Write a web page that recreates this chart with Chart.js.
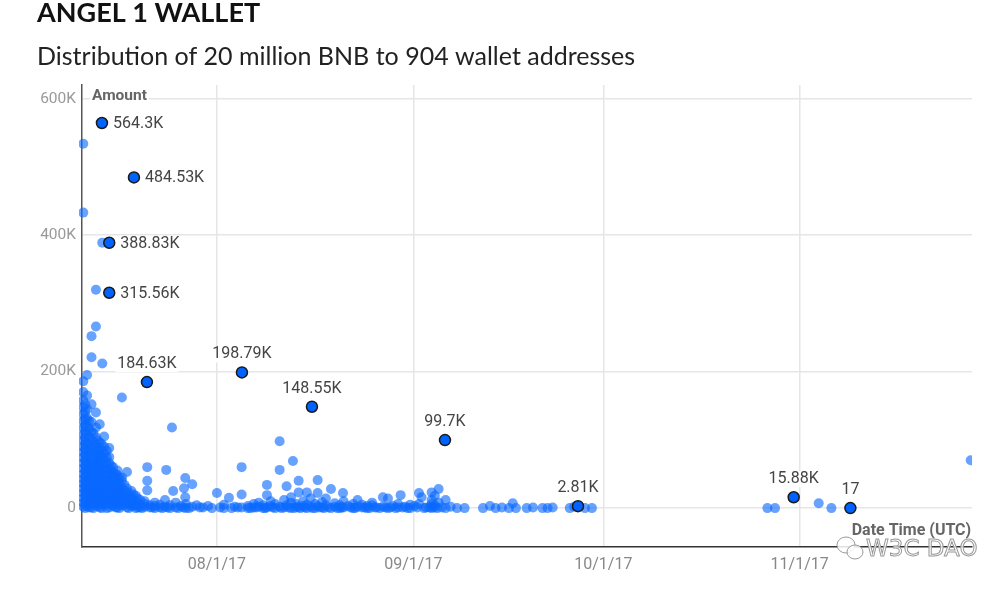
<!DOCTYPE html>
<html>
<head>
<meta charset="utf-8">
<script src="https://cdn.jsdelivr.net/npm/chart.js@4.4.0/dist/chart.umd.min.js"></script>
<style>
  html, body { margin: 0; padding: 0; background: #fff; }
  #wrap { width: 1000px; height: 591px; }
</style>
</head>
<body>
<div id="wrap"><canvas id="chart" width="1000" height="591"></canvas></div>
<script>
const titleText = "ANGEL 1 WALLET";
const subtitleText = "Distribution of 20 million BNB to 904 wallet addresses";

// x is days counted from 2017-08-01 (UTC)
const xTickDays = [0, 31, 61, 92];
const xTickLabels = ["08/1/17", "09/1/17", "10/1/17", "11/1/17"];
const yTickValues = [0, 200000, 400000, 600000];
const yTickLabels = ["0", "200K", "400K", "600K"];

// labelled wallets
const topDays = [-18.15, -13.1, -17.0, -17.0, -11.05, 3.95, 15.0, 36.0, 57.0, 91.05, 100.0];
const topAmounts = [564300, 484530, 388830, 315560, 184630, 198790, 148550, 99700, 2810, 15880, 17];
const topLabels = ["564.3K", "484.53K", "388.83K", "315.56K", "184.63K", "198.79K", "148.55K", "99.7K", "2.81K", "15.88K", "17"];
const topLabelSide = ["right", "right", "right", "right", "top", "top", "top", "top", "top", "top", "top"];

// other wallets: [day, amount in thousands of BNB]
const otherPoints = [
  [-21.1,534],[-21.1,433],[-21.1,186],[-21.1,170],[-21.1,158],[-21.1,148],[-21.1,138],[-21.1,128],
  [-21.1,118],[-21.1,108],[-21.1,99],[-21.1,90],[-21.1,82],[-21.1,74],[-21.1,66],[-21.1,58],
  [-21.1,50],[-21.1,43],[-21.1,36],[-21.1,29],[-21.1,22],[-21.1,15],[-21.1,8],[-21.1,2],
  [-20.8,152],[-20.8,141],[-20.8,131],[-20.8,121],[-20.8,112],[-20.8,103],[-20.8,94],[-20.8,86],
  [-20.8,78],[-20.8,70],[-20.8,62],[-20.8,54],[-20.8,46],[-20.8,39],[-20.8,32],[-20.8,25],[-20.8,18],[-20.8,11],[-20.8,5],[-20.8,0],
  [-20.5,195],[-20.5,165],[-20.5,145],[-20.5,132],[-20.5,120],[-20.5,108],[-20.5,96],[-20.5,86],
  [-20.5,76],[-20.5,66],[-20.5,56],[-20.5,47],[-20.5,39],[-20.5,31],[-20.5,23],[-20.5,16],[-20.5,9],[-20.5,3],
  [-20.2,128],[-20.2,116],[-20.2,104],[-20.2,93],[-20.2,83],[-20.2,74],[-20.2,65],[-20.2,57],
  [-20.2,49],[-20.2,41],[-20.2,34],[-20.2,27],[-20.2,20],[-20.2,13],[-20.2,6],[-20.2,1],
  [-19.8,252],[-19.8,221],[-19.8,152],[-19.8,126],[-19.8,112],[-19.8,100],[-19.8,90],[-19.8,80],
  [-19.8,71],[-19.8,62],[-19.8,54],[-19.8,46],[-19.8,38],[-19.8,30],[-19.8,22],[-19.8,14],[-19.8,7],[-19.8,1],
  [-19.5,110],[-19.5,97],[-19.5,86],[-19.5,76],[-19.5,67],[-19.5,59],[-19.5,51],[-19.5,43],
  [-19.5,35],[-19.5,27],[-19.5,20],[-19.5,13],[-19.5,6],[-19.5,0],
  [-19.1,320],[-19.1,266],[-19.1,140],[-19.1,118],[-19.1,104],[-19.1,92],[-19.1,82],[-19.1,73],
  [-19.1,64],[-19.1,56],[-19.1,48],[-19.1,40],[-19.1,32],[-19.1,25],[-19.1,18],[-19.1,11],[-19.1,4],
  [-18.8,99],[-18.8,88],[-18.8,78],[-18.8,69],[-18.8,61],[-18.8,53],[-18.8,45],[-18.8,37],
  [-18.8,30],[-18.8,23],[-18.8,16],[-18.8,9],[-18.8,3],
  [-18.5,123],[-18.5,96],[-18.5,86],[-18.5,77],[-18.5,68],[-18.5,60],[-18.5,52],[-18.5,44],
  [-18.5,36],[-18.5,28],[-18.5,21],[-18.5,14],[-18.5,7],[-18.5,1],
  [-18.1,389],[-18.1,212],
  [-18.2,94],[-18.2,84],[-18.2,75],[-18.2,66],[-18.2,58],[-18.2,50],[-18.2,42],[-18.2,34],
  [-18.2,27],[-18.2,20],[-18.2,13],[-18.2,6],[-18.2,0],
  [-17.8,105],[-17.8,90],[-17.8,80],[-17.8,72],[-17.8,64],[-17.8,56],[-17.8,48],[-17.8,40],
  [-17.8,33],[-17.8,26],[-17.8,19],[-17.8,12],[-17.8,5],
  [-17.4,84],[-17.4,74],[-17.4,65],[-17.4,57],[-17.4,49],[-17.4,41],[-17.4,34],[-17.4,27],
  [-17.4,20],[-17.4,13],[-17.4,6],[-17.4,0],
  [-17.0,88],[-17.0,75],[-17.0,66],[-17.0,58],[-17.0,50],[-17.0,42],[-17.0,35],[-17.0,28],
  [-17.0,21],[-17.0,14],[-17.0,7],[-17.0,1],
  [-16.7,62],[-16.7,54],[-16.7,47],[-16.7,40],[-16.7,33],[-16.7,26],[-16.7,19],[-16.7,12],[-16.7,5],
  [-16.4,60],[-16.4,52],[-16.4,45],[-16.4,38],[-16.4,31],[-16.4,24],[-16.4,17],[-16.4,10],[-16.4,3],
  [-16.0,50],[-16.0,42],[-16.0,35],[-16.0,28],[-16.0,21],[-16.0,14],[-16.0,7],[-16.0,1],
  [-15.7,55],[-15.7,48],[-15.7,38],[-15.7,30],[-15.7,24],[-15.7,18],[-15.7,12],[-15.7,6],[-15.7,1],
  [-15.4,44],[-15.4,36],[-15.4,28],[-15.4,21],[-15.4,14],[-15.4,7],[-15.4,0],
  [-15.0,162],[-15.0,45],[-15.0,40],[-15.0,29],[-15.0,22],[-15.0,16],[-15.0,10],[-15.0,4],
  [-14.6,34],[-14.6,26],[-14.6,19],[-14.6,12],[-14.6,5],
  [-14.2,53],[-14.2,29],[-14.2,20],[-14.2,13],[-14.2,7],[-14.2,1],
  [-13.9,22],[-13.9,14],[-13.9,6],[-13.9,0],
  [-13.5,25],[-13.5,16],[-13.5,9],[-13.5,3],
  [-13.2,20],[-13.2,11],[-13.2,4],
  [-12.8,18],[-12.8,10],[-12.8,4],[-12.8,0],
  [-12.5,14],[-12.5,6],[-12.5,1],
  [-12.1,12],[-12.1,5],[-12.1,1],
  [-11.0,60],[-11.0,40],[-11.0,26],[-8.0,56],[-7.1,118],[-6.9,25],[-5.0,44],[-3.9,35],
  [-5.2,29],[-5.0,16],[0,22],[1.9,15],[3.9,60],[3.9,20],[7.9,34],[7.9,19],
  [9.9,98],[9.9,56],[12.0,69],[11.0,32],[12.9,40],[15.9,41],[18.0,28],[12.9,23],
  [14.2,23],[15.9,22],[19.9,22],
  [-11.4,2],[-11.4,6],[-11.4,10],[-10.6,1],[-10.6,4],[-9.8,0],[-9.8,3],[-9.8,8],[-9.0,1],[-9.0,5],
  [-8.2,2],[-8.2,12],[-7.4,0],[-7.4,4],[-6.5,1],[-6.5,8],[-5.7,3],[-4.9,0],[-4.9,6],[-3.9,2],
  [-3.2,4],[-2.2,1],[-1.4,3],[1.1,0],[1.1,5],[2.8,2],[3.9,1],[4.9,0],[4.9,3],[5.8,1],[5.8,6],
  [6.6,2],[6.6,8],[7.3,0],[7.3,4],[7.9,1],[8.5,3],[8.5,10],[9.2,0],[9.2,6],[9.9,2],[10.6,1],
  [10.6,12],[11.0,4],[11.7,0],[11.7,8],[11.7,16],[12.5,2],[12.5,6],[12.9,1],[13.6,3],[13.6,10],
  [14.2,0],[14.2,5],[14.8,2],[14.8,14],[15.5,0],[15.5,6],[15.9,3],[16.6,1],[16.6,9],[17.2,4],
  [17.2,14],[18.0,0],[18.6,2],[18.6,7],[19.4,0],[19.4,4],[20.0,10],[20.0,1],[20.7,3],[21.5,0],
  [21.5,6],[22.2,2],[22.2,12],[22.9,1],[22.9,5],[23.7,0],[23.7,3],[24.5,4],[24.5,8],[25.2,1],
  [26.2,16],[26.2,2],[27.0,0],[27.0,14],[27.8,3],[28.6,1],[28.6,6],[29.0,19],[29.7,2],[30.5,0],
  [30.5,5],[31.2,3],[31.9,22],[31.9,6],[32.3,16],[33.0,1],[33.9,23],[33.9,12],[33.9,2],[33.9,6],
  [33.9,0],[34.4,18],[34.4,4],[34.4,1],[35.0,28],[35.0,8],[36.1,12],[36.1,0],[36.9,2],[37.9,0],
  [39.1,0],[42.0,0],[43.1,3],[44.0,0],[45.0,1],[46.1,0],[46.7,7],[47.2,0],[48.9,0],[49.9,1],
  [51.4,0],[52.2,0],[53.0,1],[55.7,0],[56.4,2],[58.1,0],[59.2,0],[86.9,0],[88.1,0],[95.0,7],
  [97.0,0],[119.0,70],
  [-11.8,0],[-10.2,1],[-8.6,0],[-7.8,1],[-6.1,0],[-5.3,1],[-4.4,0],[-2.7,1],[-0.8,0],[0.5,1],
  [2.3,0],[3.3,1],[5.3,0],[6.2,1],[7.6,0],[8.8,1],[10.2,0],[11.3,1],[12.2,0],[13.2,0],
  [13.9,1],[15.1,0],[16.2,1],[16.9,0],[17.6,1],[19.0,0],[19.7,1],[21.1,1],[21.8,0],[23.3,1],
  [24.1,0],[24.9,1],[25.7,0],[26.6,1],[27.4,1],[28.2,0],[29.3,1],[30.1,0],[31.6,1],[32.7,0],
  [33.5,1],[34.8,0],[35.5,1]
];

const font = "Roboto, 'Liberation Sans', sans-serif";

const labelPlugin = {
  id: "labels",
  afterDatasetsDraw(chart) {
    const ctx = chart.ctx;
    const area = chart.chartArea;
    ctx.save();
    ctx.textBaseline = "middle";

    // axis titles
    ctx.font = "bold 15.5px " + font;
    ctx.fillStyle = "#fff";
    let w = ctx.measureText("Amount").width;
    ctx.fillRect(area.left + 8, area.top + 3, w + 4, 17);
    ctx.fillStyle = "#666";
    ctx.textAlign = "left";
    ctx.fillText("Amount", area.left + 10, area.top + 11);

    ctx.font = "bold 16px " + font;
    ctx.textAlign = "right";
    ctx.fillText("Date Time (UTC)", area.right - 1, area.bottom - 16);

    // point labels
    const meta = chart.getDatasetMeta(0);
    ctx.font = "16px " + font;
    meta.data.forEach((pt, i) => {
      const txt = topLabels[i];
      const tw = ctx.measureText(txt).width;
      let tx, ty;
      if (topLabelSide[i] === "right") {
        tx = pt.x + 11;
        ty = pt.y + 1;
      } else {
        tx = pt.x - tw / 2;
        ty = pt.y - 18;
      }
      ctx.fillStyle = "#fff";
      ctx.fillRect(tx - 2, ty - 8, tw + 4, 16);
      ctx.fillStyle = "#444";
      ctx.textAlign = "left";
      ctx.fillText(txt, tx, ty);
    });

    // watermark
    ctx.lineWidth = 1;
    ctx.strokeStyle = "#999";
    ctx.fillStyle = "rgba(255,255,255,0.85)";
    ctx.beginPath();
    ctx.ellipse(846, 545, 9, 8, 0, 0, Math.PI * 2);
    ctx.fill(); ctx.stroke();
    ctx.beginPath();
    ctx.ellipse(855, 552, 8, 7, 0, 0, Math.PI * 2);
    ctx.fill(); ctx.stroke();
    ctx.font = "23px 'DejaVu Sans', sans-serif";
    ctx.textAlign = "left";
    ctx.fillText("W3C DAO", 866, 550);
    ctx.strokeText("W3C DAO", 866, 550);
    ctx.restore();
  }
};

new Chart(document.getElementById("chart"), {
  type: "scatter",
  data: {
    datasets: [
      {
        label: "Labelled",
        data: topDays.map((d, i) => ({ x: d, y: topAmounts[i] })),
        backgroundColor: "#0062ff",
        borderColor: "#1a1a1a",
        borderWidth: 1.5,
        pointRadius: 5.5,
        pointHoverRadius: 5.5,
        clip: false
      },
      {
        label: "Wallets",
        data: otherPoints.map(p => ({ x: p[0], y: p[1] * 1000 })),
        backgroundColor: "rgba(10,105,255,0.62)",
        borderWidth: 0,
        pointRadius: 5,
        pointHoverRadius: 5,
        clip: { left: 3, right: 0, top: 10, bottom: 10 }
      }
    ]
  },
  options: {
    responsive: false,
    animation: false,
    events: [],
    layout: { padding: { left: 37, right: 28, top: 0, bottom: 0 } },
    plugins: {
      legend: { display: false },
      tooltip: { enabled: false },
      title: {
        display: true,
        text: titleText,
        align: "start",
        color: "#111",
        font: { family: "Lato", size: 27, weight: "bold", lineHeight: 1.0 },
        padding: { top: 0, bottom: 17.5 }
      },
      subtitle: {
        display: true,
        text: subtitleText,
        align: "start",
        color: "#222",
        font: { family: "Lato", size: 25, weight: "normal", lineHeight: 1.0 },
        padding: { top: 0, bottom: 15.5 }
      }
    },
    scales: {
      x: {
        type: "linear",
        min: -21.3,
        max: 119.2,
        afterBuildTicks: s => { s.ticks = xTickDays.map(v => ({ value: v })); },
        afterFit: s => { s.height = 44; },
        ticks: {
          callback: (v, i) => xTickLabels[i],
          color: "#888",
          font: { family: font, size: 16 },
          padding: 8,
          maxRotation: 0,
          autoSkip: false
        },
        grid: { color: "#e6e6e6", lineWidth: 1.5, drawTicks: false },
        border: { color: "#333", width: 1.5 }
      },
      y: {
        min: -57000,
        max: 620000,
        afterBuildTicks: s => { s.ticks = yTickValues.map(v => ({ value: v })); },
        afterFit: s => { s.width = 45; },
        ticks: {
          callback: (v, i) => yTickLabels[i],
          color: "#999",
          font: { family: font, size: 15.5 },
          padding: 6
        },
        grid: { color: "#e6e6e6", lineWidth: 1.5, drawTicks: false },
        border: { color: "#555", width: 1.5 }
      }
    }
  },
  plugins: [labelPlugin]
});
</script>
</body>
</html>
